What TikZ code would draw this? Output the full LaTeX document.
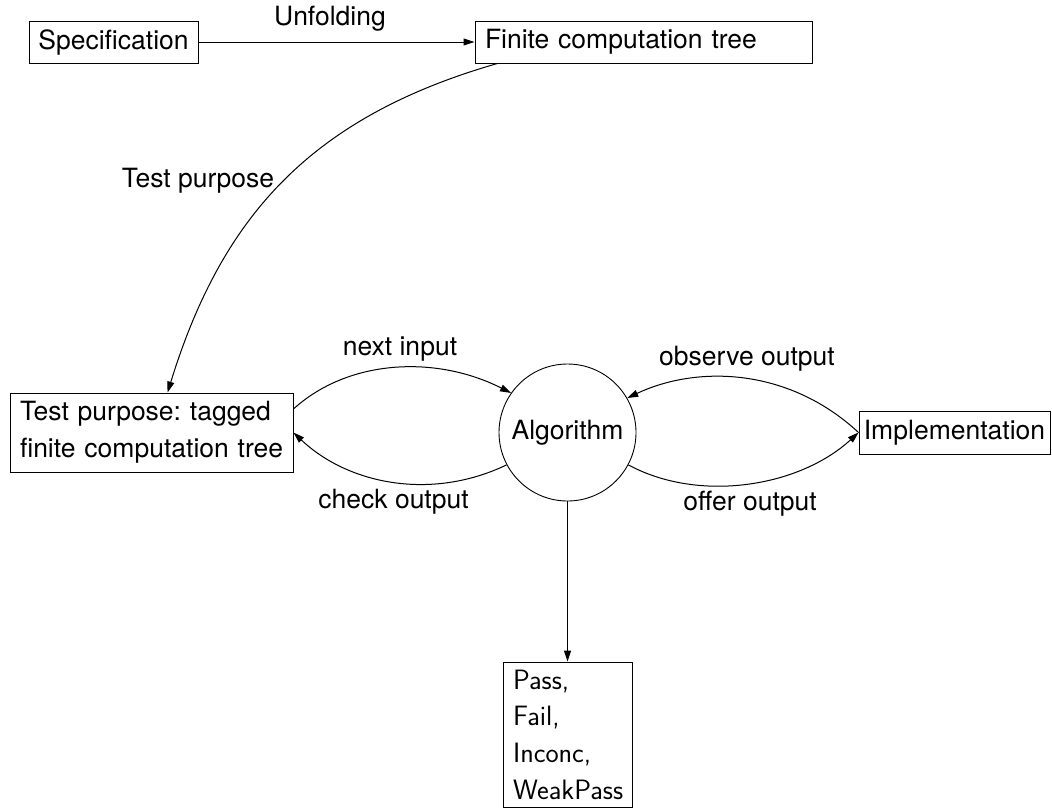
\documentclass[tikz,border=0pt]{standalone}
\usepackage{fontspec}
\setmainfont{TeX Gyre Heros}
\usetikzlibrary{arrows.meta}
\frenchspacing
\begin{document}
\begin{tikzpicture}[x=1pt,y=-1pt,
  mainfont/.style={font=\frenchspacing\fontsize{26.5}{37}\selectfont},
  box/.style={draw, rectangle, line width=0.9pt, inner sep=0pt, mainfont},
  lbl/.style={inner sep=0pt, mainfont, anchor=base},
  arr/.style={-{Triangle[length=11pt,width=7pt]}, line width=1pt}]
\useasboundingbox (0,0) rectangle (1052,809);

% nodes
\node[box, minimum width=169pt, minimum height=42pt] (spec) at (113.5,42) {Specification};
\node[box, minimum width=337pt, minimum height=42pt, text width=317pt, inner xsep=10pt, align=left] (fin) at (643.5,42) {Finite computation tree};
\node[box, minimum height=79pt, text width=263pt, inner xsep=10pt, align=left] (tp) at (151.5,432.5) {Test purpose: tagged\\finite computation tree};
\node[draw, circle, line width=0.9pt, minimum size=137pt, inner sep=0pt, mainfont] (alg) at (567.5,432.5) {Algorithm};
\node[box, minimum width=191pt, minimum height=43pt] (impl) at (954.5,432.5) {Implementation};
\node[box, minimum height=145pt, text width=109pt, inner xsep=10pt, align=left,
      font=\sffamily\fontsize{28}{36.7}\selectfont] (res) at (567.5,734.5) {Pass,\\Fail,\\Inconc,\\WeakPass};

% connectors
\draw[arr] (spec) -- (fin);
\draw[arr] ([xshift=23pt]fin.south west) .. controls +(-188,54) and +(54,-175) .. ([xshift=158pt]tp.north west);
\draw[arr] ([yshift=23.5pt]tp.east) .. controls +(55,-50) and +(-75,-38) .. (alg.145);
\draw[arr] (alg.208) .. controls +(-75,36) and +(55,52) .. (tp.east);
\draw[arr] (impl.west) .. controls +(-70,-65) and +(70,-33) .. (alg.30);
\draw[arr] (alg.-28) .. controls +(70,38) and +(-60,55) .. (impl.west);
\draw[arr] (alg) -- (res);

% labels
\node[lbl] (lunf) at (330,25) {Unfolding};
\node[lbl] (ltp) at (198,187) {Test purpose};
\node[lbl] (lnext) at (400,355) {next input};
\node[lbl] (lcheck) at (393.5,508) {check output};
\node[lbl] (lobs) at (747,365) {observe output};
\node[lbl] (loffer) at (750,510) {offer output};
\end{tikzpicture}
\end{document}
